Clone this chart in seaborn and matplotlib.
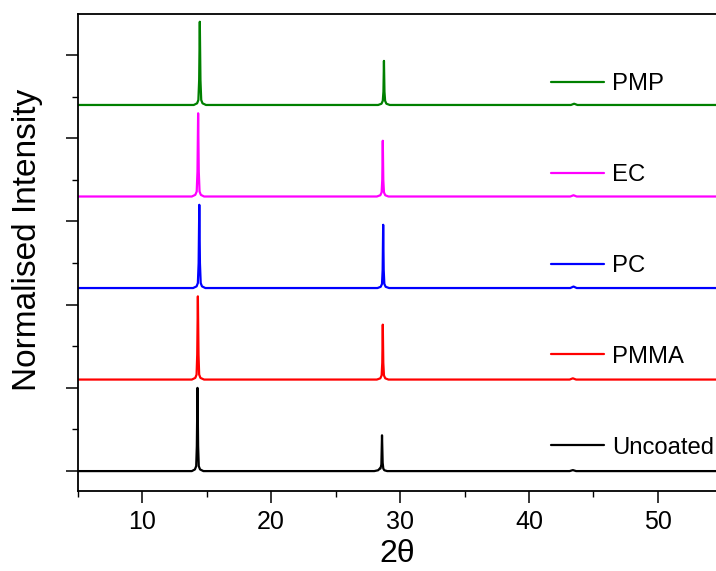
import numpy as np
import pandas as pd
import matplotlib
matplotlib.use("Agg")
import matplotlib.pyplot as plt
from matplotlib.ticker import MultipleLocator, NullFormatter
import seaborn as sns

# ---- data (normalised XRD patterns) ----
samples = ["Uncoated", "PMMA", "PC", "EC", "PMP"]
offsets = [0.0, 1.1, 2.2, 3.3, 4.4]

uncoated_x = [5.0, 13.85, 14.09, 14.19, 14.24, 14.29, 14.34, 14.39, 14.49, 14.75,
              28.0, 28.30, 28.42, 28.48, 28.55, 28.60, 28.65, 28.70, 28.78, 29.0,
              43.15, 43.4, 43.65, 54.6]
uncoated_y = [0.0, 0.0, 0.02, 0.06, 0.30, 1.00, 0.30, 0.06, 0.02, 0.0,
              0.0, 0.01, 0.03, 0.03, 0.08, 0.43, 0.10, 0.03, 0.01, 0.0,
              0.0, 0.012, 0.0, 0.0]

pmma_x = [5.0, 13.85, 14.12, 14.22, 14.27, 14.32, 14.37, 14.42, 14.52, 14.8,
          28.2, 28.47, 28.57, 28.62, 28.66, 28.70, 28.75, 28.85, 29.1,
          43.15, 43.4, 43.65, 54.6]
pmma_y = [0.0, 0.0, 0.02, 0.06, 0.30, 1.00, 0.30, 0.06, 0.02, 0.0,
          0.0, 0.015, 0.05, 0.20, 0.66, 0.20, 0.05, 0.015, 0.0,
          0.0, 0.015, 0.0, 0.0]

pc_x = [5.0, 13.95, 14.22, 14.32, 14.38, 14.43, 14.48, 14.54, 14.64, 14.9,
        28.25, 28.50, 28.60, 28.65, 28.69, 28.73, 28.78, 28.88, 29.15,
        43.2, 43.45, 43.7, 54.6]
pc_y = [0.0, 0.0, 0.02, 0.06, 0.30, 1.00, 0.30, 0.06, 0.02, 0.0,
        0.0, 0.015, 0.05, 0.22, 0.76, 0.22, 0.05, 0.015, 0.0,
        0.0, 0.018, 0.0, 0.0]

ec_x = [5.0, 13.85, 14.12, 14.23, 14.29, 14.34, 14.39, 14.45, 14.55, 14.8,
        28.2, 28.47, 28.57, 28.62, 28.66, 28.70, 28.75, 28.85, 29.1,
        43.2, 43.45, 43.7, 54.6]
ec_y = [0.0, 0.0, 0.02, 0.06, 0.30, 1.00, 0.30, 0.06, 0.02, 0.0,
        0.0, 0.015, 0.05, 0.20, 0.67, 0.20, 0.05, 0.015, 0.0,
        0.0, 0.015, 0.0, 0.0]

pmp_x = [5.0, 14.0, 14.26, 14.36, 14.42, 14.47, 14.52, 14.58, 14.68, 14.95,
         28.3, 28.56, 28.66, 28.71, 28.75, 28.79, 28.84, 28.94, 29.2,
         43.25, 43.5, 43.75, 54.6]
pmp_y = [0.0, 0.0, 0.02, 0.06, 0.30, 1.00, 0.30, 0.06, 0.02, 0.0,
         0.0, 0.015, 0.05, 0.16, 0.53, 0.16, 0.05, 0.015, 0.0,
         0.0, 0.015, 0.0, 0.0]

xs = [uncoated_x, pmma_x, pc_x, ec_x, pmp_x]
ys = [uncoated_y, pmma_y, pc_y, ec_y, pmp_y]
colors = ["#000000", "#ff0000", "#0000ff", "#ff00ff", "#008000"]
legend_order = ["PMP", "EC", "PC", "PMMA", "Uncoated"]

frames = []
for name, off, x, y in zip(samples, offsets, xs, ys):
    frames.append(pd.DataFrame({"two_theta": x,
                                "intensity": np.array(y) + off,
                                "sample": name}))
df = pd.concat(frames, ignore_index=True)

# ---- styling ----
sns.set_style("ticks")
plt.rcParams["font.family"] = ["Liberation Sans", "DejaVu Sans"]
plt.rcParams["text.color"] = "black"
plt.rcParams["axes.labelcolor"] = "black"
plt.rcParams["xtick.color"] = "black"
plt.rcParams["ytick.color"] = "black"

fig = plt.figure(figsize=(7.16, 5.71), dpi=100)
ax = fig.add_axes([0.1085, 0.140, 1.0 - 0.1085, 0.975 - 0.140])

sns.lineplot(data=df, x="two_theta", y="intensity", hue="sample",
             hue_order=samples, palette=dict(zip(samples, colors)),
             estimator=None, sort=False, linewidth=1.6, ax=ax)

ax.set_xlim(5, 54.5)
ax.set_ylim(-0.24, 5.49)
ax.xaxis.set_major_locator(MultipleLocator(10))
ax.xaxis.set_minor_locator(MultipleLocator(5))
ax.yaxis.set_major_locator(MultipleLocator(1))
ax.yaxis.set_minor_locator(MultipleLocator(0.5))
ax.yaxis.set_major_formatter(NullFormatter())

ax.tick_params(axis="both", which="major", direction="out", length=8.5,
               width=1.1, color="black", labelcolor="black")
ax.tick_params(axis="both", which="minor", direction="out", length=4.5,
               width=1.0, color="black")
ax.tick_params(axis="x", which="major", labelsize=18, pad=5)

for side in ["left", "bottom", "top"]:
    ax.spines[side].set_visible(True)
    ax.spines[side].set_linewidth(1.3)
    ax.spines[side].set_color("black")
ax.spines["right"].set_visible(False)

ax.set_xlabel("2θ", fontsize=23, labelpad=4, color="black")
ax.set_ylabel("Normalised Intensity", fontsize=24, color="black")
ax.yaxis.set_label_coords(-0.054, 0.5265)

handles, labels = ax.get_legend_handles_labels()
hmap = dict(zip(labels, handles))
leg = ax.legend([hmap[l] for l in legend_order], legend_order,
                loc="upper left", bbox_to_anchor=(0.7415, 0.876),
                frameon=False, fontsize=17.2, handlelength=2.23,
                handletextpad=0.33, labelspacing=2.88, borderpad=0,
                borderaxespad=0, labelcolor="black")
for h in leg.get_lines():
    h.set_linewidth(1.6)

fig.savefig("out.png", dpi=100)
